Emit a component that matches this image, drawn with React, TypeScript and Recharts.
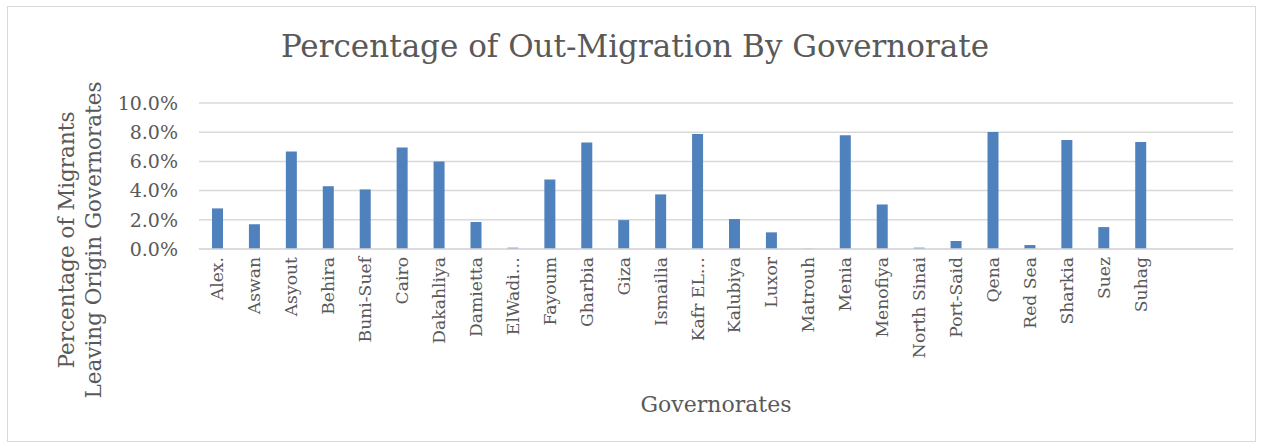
import React from "react";
import { BarChart, Bar, XAxis, YAxis, CartesianGrid } from "recharts";

const categories = ["Alex.", "Aswan", "Asyout", "Behira", "Buni-Suef", "Cairo", "Dakahliya", "Damietta", "ElWadi…", "Fayoum", "Gharbia", "Giza", "Ismailia", "Kafr EL…", "Kalubiya", "Luxor", "Matrouh", "Menia", "Menofiya", "North Sinai", "Port-Said", "Qena", "Red Sea", "Sharkia", "Suez", "Suhag", "", " "];
const values: (number | null)[] = [2.78, 1.69, 6.67, 4.3, 4.08, 6.95, 5.99, 1.85, 0.09, 4.76, 7.29, 1.98, 3.74, 7.88, 2.05, 1.14, 0.02, 7.79, 3.05, 0.09, 0.55, 8.02, 0.27, 7.47, 1.5, 7.33, null, null];
const yTicks = [0, 2, 4, 6, 8, 10];

const data = categories.map((c, i) => ({ name: c, value: values[i] }));

const FONT = "'DejaVu Serif', 'Liberation Serif', serif";
const TEXT = "#595959";

const XTick = (props: any) => {
  const { x, y, payload } = props;
  return (
    <text
      x={x}
      y={y}
      transform={`rotate(-90, ${x}, ${y})`}
      textAnchor="end"
      dy="0.35em"
      fill={TEXT}
      fontFamily={FONT}
      fontSize={17.2}
    >
      {payload.value}
    </text>
  );
};

export default function App() {
  return (
    <div style={{ position: "absolute", left: 0, top: 0, width: 1263, height: 448, background: "#fff", fontFamily: FONT }}>
      <div style={{ position: "absolute", left: 7, top: 6, width: 1247, height: 434, border: "1px solid #d9d9d9" }} />
      <div style={{ position: "absolute", left: 0, top: 28, width: 1270, textAlign: "center", fontSize: 31, color: TEXT }}>
        Percentage of Out-Migration By Governorate
      </div>
      <div style={{ position: "absolute", left: 716 - 200, top: 392, width: 400, textAlign: "center", fontSize: 22, color: TEXT }}>
        Governorates
      </div>
      <div
        style={{
          position: "absolute",
          left: 83 - 200,
          top: 240 - 30,
          width: 400,
          height: 60,
          textAlign: "center",
          fontSize: 21.5,
          lineHeight: "27px",
          color: TEXT,
          transform: "rotate(-90deg)",
        }}
      >
        Percentage of Migrants
        <br />
        Leaving Origin Governorates
      </div>
      <div style={{ position: "absolute", left: 0, top: 0 }}>
        <BarChart width={1263} height={448} data={data} margin={{ top: 103, right: 30, left: 0, bottom: 0 }}>
          <CartesianGrid vertical={false} stroke="#d9d9d9" strokeWidth={1.5} />
          <XAxis
            dataKey="name"
            interval={0}
            height={199}
            tickLine={false}
            axisLine={{ stroke: "#d9d9d9", strokeWidth: 1.5 }}
            tick={<XTick />}
            tickSize={8}
            tickMargin={0}
          />
          <YAxis
            width={199}
            domain={[0, 10]}
            ticks={yTicks}
            tickFormatter={(v: number) => v.toFixed(1) + "%"}
            axisLine={false}
            tickLine={false}
            tickSize={21}
            tickMargin={0}
            tick={{ fill: TEXT, fontFamily: FONT, fontSize: 19 }}
          />
          <Bar dataKey="value" fill="#4F81BD" barSize={11} isAnimationActive={false} />
        </BarChart>
      </div>
    </div>
  );
}
